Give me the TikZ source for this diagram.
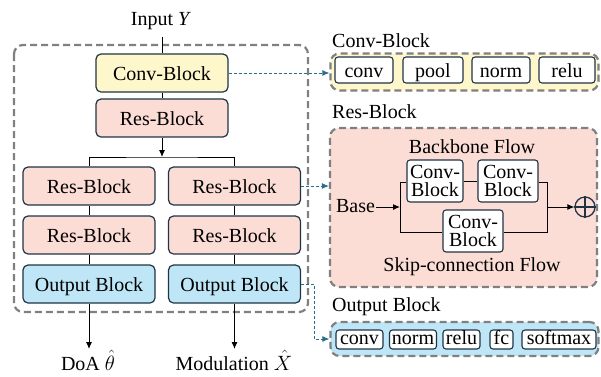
\documentclass[tikz,border=0pt]{standalone}
\usepackage{fontspec}
\setmainfont{LiberationSerif}[Extension=.ttf, UprightFont=*-Regular, ItalicFont=*-Italic,
  BoldFont=*-Bold, BoldItalicFont=*-BoldItalic]
\usetikzlibrary{arrows.meta,calc}

\definecolor{bdr}{HTML}{1F3444}
\definecolor{convfill}{HTML}{FFF7CC}
\definecolor{resfill}{HTML}{FBDDD6}
\definecolor{outfill}{HTML}{BEE6F7}
\definecolor{grpgray}{HTML}{808080}
\definecolor{linkteal}{HTML}{2A6E8C}

\tikzset{
  blk/.style={draw=bdr, line width=1.2pt, rounded corners=5pt, minimum width=132pt,
    minimum height=38pt, inner sep=0pt, text height=14pt, text depth=0pt},
  convblk/.style={blk, fill=convfill},
  resblk/.style={blk, fill=resfill},
  outblk/.style={blk, fill=outfill},
  grp/.style={draw=grpgray, line width=2.2pt, dash pattern=on 7pt off 4pt, rounded corners=9pt},
  opbox/.style={draw=bdr, fill=white, line width=1.1pt, rounded corners=3pt, inner sep=0pt},
  opbig/.style={opbox, minimum height=26pt, text height=14pt, text depth=0pt},
  opsmall/.style={opbox, minimum height=19pt, text height=13.5pt, text depth=4.5pt},
  cvsub/.style={opbox, minimum height=42pt, align=center, font=\rmfamily\fontsize{20}{18.5}\selectfont},
  wire/.style={draw=black, line width=1pt},
  flow/.style={wire, -{Latex[length=7pt,width=6pt]}},
  link/.style={draw=linkteal, line width=0.9pt, dash pattern=on 3pt off 2pt,
    -{Latex[length=7pt,width=6pt]}},
  lbl/.style={inner sep=0pt},
}

\begin{document}
\begin{tikzpicture}[x=1pt, y=-1pt, font=\rmfamily\fontsize{20}{22}\selectfont]
\useasboundingbox (0,0) rectangle (601,376);

% ---------- main network ----------
\draw[grp] (14,45) rectangle (308,312);

\node[lbl, anchor=base] (inp) at (161,25) {Input \textit{Y}};

\node[convblk] (conv) at (162,73) {Conv-Block};
\node[resblk]  (res0) at (162,118) {Res-Block};

\node[resblk] (resL1) at (89,186) {Res-Block};
\node[resblk] (resL2) at (89,235) {Res-Block};
\node[outblk] (outL)  at (89,284) {Output Block};

\node[resblk] (resR1) at (234.5,186) {Res-Block};
\node[resblk] (resR2) at (234.5,235) {Res-Block};
\node[outblk] (outR)  at (234.5,284) {Output Block};

\coordinate (split) at (162,157);
\draw[wire] (162,37) -- (conv.north);
\draw[wire] (conv.south) -- (res0.north);
\draw[flow] (res0.south) -- (split);
\draw[wire] (resL1.north) |- (split) -| (resR1.north);
\draw[wire] (resL1.south) -- (resL2.north);
\draw[wire] (resL2.south) -- (outL.north);
\draw[wire] (resR1.south) -- (resR2.north);
\draw[wire] (resR2.south) -- (outR.north);

\coordinate (doaend) at (89,349);
\coordinate (modend) at (234.5,349);
\draw[flow] (outL.south) -- (doaend);
\draw[flow] (outR.south) -- (modend);
\node[lbl, anchor=base] (doa) at (88,370) {DoA $\hat{\theta}$};
\node[lbl, anchor=base] (mod) at (234,370) {Modulation $\hat{X}$};

% ---------- Conv-Block detail ----------
\node[lbl, anchor=base west] (cvtitle) at (332,47) {Conv-Block};
\node[grp, fill=convfill, minimum width=268pt, minimum height=37pt, inner sep=0pt] (cgrp) at (464.5,72) {};
\node[opbig, minimum width=58pt] (c1) at (364,70) {conv};
\node[opbig, minimum width=60pt] (c2) at (433,70) {pool};
\node[opbig, minimum width=58pt] (c3) at (501,70) {norm};
\node[opbig, minimum width=56pt] (c4) at (567,70) {relu};

% ---------- Res-Block detail ----------
\node[lbl, anchor=base west] (rstitle) at (332,118) {Res-Block};
\node[grp, fill=resfill, minimum width=267pt, minimum height=159pt, inner sep=0pt] (rgrp) at (463.5,207.5) {};
\node[lbl, anchor=base] (bbflow) at (472,153) {Backbone Flow};
\node[lbl, anchor=base] (skflow) at (472,271) {Skip-connection Flow};
\node[lbl, anchor=base] (base) at (355.5,212) {Base};

\node[cvsub, minimum width=56pt] (cb1) at (435,181) {Conv-\\Block};
\node[cvsub, minimum width=60pt] (cb2) at (508,181) {Conv-\\Block};
\node[cvsub, minimum width=60pt] (cb3) at (473,231) {Conv-\\Block};
\node[draw=bdr, line width=1.3pt, circle, minimum size=20pt, inner sep=0pt] (plus) at (585,207) {};
\draw[bdr, line width=1.3pt] (plus.north) -- (plus.south) (plus.west) -- (plus.east);

\coordinate (fork) at (400,207);
\coordinate (forkT) at (400,182);
\coordinate (forkB) at (400,232);
\coordinate (joinT) at (547,182);
\coordinate (joinB) at (547,232);
\coordinate (join) at (547,207);
\draw[flow] ($(base.east |- fork)+(1,0)$) -- (fork);
\draw[wire] (forkT) -- (forkB);
\draw[wire] (forkT) -- (cb1.west |- forkT);
\draw[wire] (cb1.east) -- (cb2.west);
\draw[wire] (cb2.east |- joinT) -- (joinT) -- (joinB) -- (cb3.east |- joinB);
\draw[wire] (forkB) -- (cb3.west |- forkB);
\draw[flow] (join) -- (plus.west);

% ---------- Output Block detail ----------
\node[lbl, anchor=base west] (obtitle) at (332,311) {Output Block};
\node[grp, fill=outfill, minimum width=268pt, minimum height=34pt, inner sep=0pt] (ogrp) at (464.5,339) {};
\node[opsmall, minimum width=47pt] (o1) at (359.5,339.5) {conv};
\node[opsmall, minimum width=47pt] (o2) at (413,339.5) {norm};
\node[opsmall, minimum width=37pt] (o3) at (461.5,339.5) {relu};
\node[opsmall, minimum width=23pt] (o4) at (501.5,339.5) {fc};
\node[opsmall, minimum width=74pt] (o5) at (559,339.5) {softmax};

% ---------- links from the network to the details ----------
\draw[link] (conv.east) -- (conv.east -| cgrp.west);
\draw[link] (resR1.east) -- (resR1.east -| rgrp.west);
\draw[link] (outR.east) -- ++(13,0) |- (ogrp.west);
\end{tikzpicture}
\end{document}
